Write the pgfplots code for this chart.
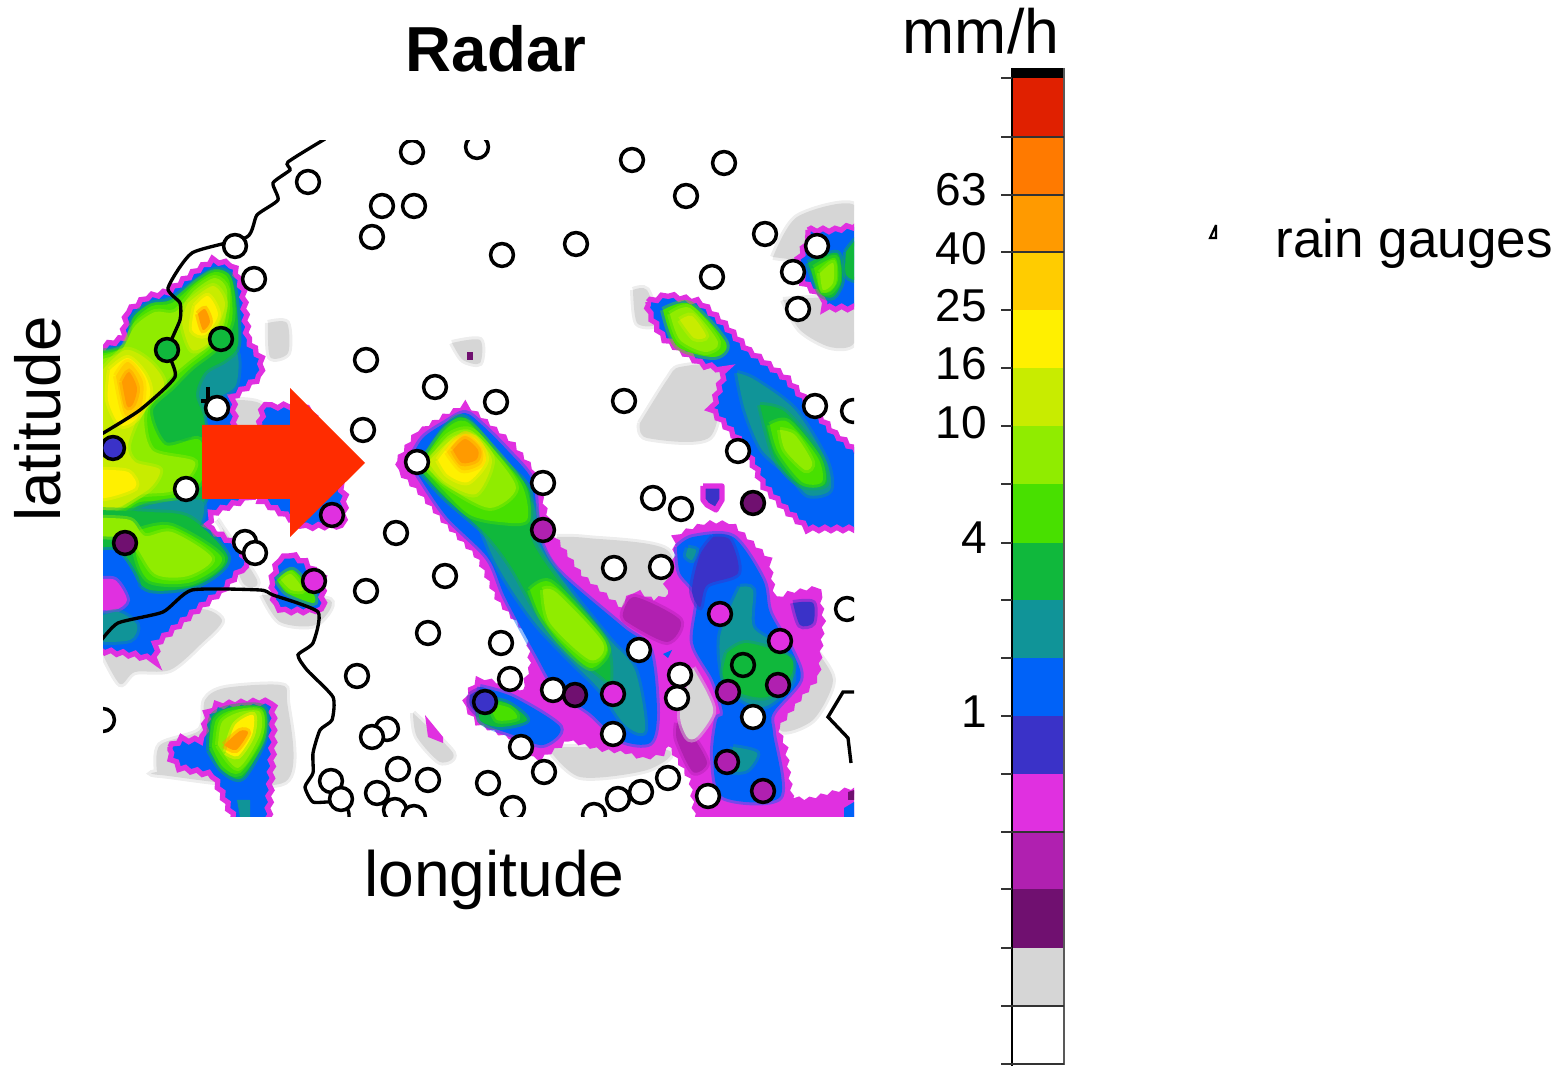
\documentclass[border=0pt]{standalone}
\usepackage{pgfplots}
\pgfplotsset{compat=1.18}
\usetikzlibrary{decorations.pathmorphing}
\usepackage{fontspec}
\setmainfont{Liberation Sans}
\definecolor{cGy}{HTML}{D6D6D6}
\definecolor{cDp}{HTML}{701070}
\definecolor{cPu}{HTML}{B020B0}
\definecolor{cMa}{HTML}{E030E0}
\definecolor{cIn}{HTML}{3A32C8}
\definecolor{cBl}{HTML}{0062F8}
\definecolor{cTe}{HTML}{109498}
\definecolor{cGr}{HTML}{10B83C}
\definecolor{cMg}{HTML}{48E000}
\definecolor{cLi}{HTML}{90EC00}
\definecolor{cYg}{HTML}{C8EC00}
\definecolor{cYe}{HTML}{FFF000}
\definecolor{cAm}{HTML}{FFCC00}
\definecolor{cOr}{HTML}{FF9A00}
\definecolor{cOd}{HTML}{FF7A00}
\definecolor{cRe}{HTML}{E02000}
\definecolor{cAr}{HTML}{FF2C00}
% flat polygon, soft inner layer, and polygon with the stepped magenta storm edge
\newcommand{\reg}[2]{\addplot[fill=#1,draw=none,forget plot] coordinates {#2};}
\newcommand{\sreg}[2]{\addplot[fill=#1,draw=#1,draw opacity=0.45,line width=1.7pt,smooth,forget plot] coordinates {#2};}
\newcommand{\edge}[2]{\addplot[fill=#1,draw=cMa,line width=1.5pt,line join=miter,decorate,decoration={zigzag,segment length=1.2mm,amplitude=0.17mm},forget plot] coordinates {#2};}
\newcommand{\bline}[1]{\addplot[draw=black,line width=0.95pt,smooth,tension=0.35,forget plot] coordinates {#1};}
\newcommand{\tk}[2]{\node[anchor=base east,inner sep=0pt,font=\fontsize{13.1pt}{15pt}\selectfont] at (axis cs:987.5,#2) {#1};}
\pgfplotsset{gauge/.style={only marks,mark=*,mark size=3.25pt,mark options={fill=#1,draw=black,line width=1pt},forget plot}}
\begin{document}
\begin{tikzpicture}[x=1cm,y=1cm]
\path[use as bounding box] (0,0) rectangle (15.62,10.66);
% ---------------- map ----------------
\begin{axis}[at={(1.03cm,2.49cm)},anchor=south west,scale only axis,width=7.51cm,height=6.76cm,
  xmin=103,xmax=854,ymin=141,ymax=817,y dir=reverse,hide axis,clip=true,clip marker paths=true]
% grey halos
\sreg{cGy}{(268,323)(287,323)(288,353)(270,357)(268,323)}
\sreg{cGy}{(452,343)(480,340)(480,363)(463,360)(452,343)}
\sreg{cGy}{(640,423)(667,380)(680,367)(720,370)(710,437)(647,438)(640,423)}
\sreg{cGy}{(773,257)(797,217)(854,205)(854,260)(773,257)}
\sreg{cGy}{(783,300)(800,330)(830,347)(854,343)(854,300)(783,300)}
\sreg{cGy}{(633,290)(647,290)(657,323)(637,323)(633,290)}
\sreg{cGy}{(557,537)(587,538)(667,550)(672,603)(623,612)(563,567)(557,537)}
\sreg{cGy}{(547,747)(667,750)(647,770)(580,777)(547,747)}
\sreg{cGy}{(813,647)(833,680)(813,720)(780,730)(790,680)(813,647)}
\sreg{cGy}{(103,655)(120,684)(135,672)(170,670)(200,645)(222,620)(190,610)(103,655)}
\sreg{cGy}{(157,772)(160,745)(200,730)(205,700)(225,688)(280,685)(287,700)(285,782)(160,775)(157,772)}
\sreg{cGy}{(413,713)(453,753)(440,762)(417,737)(413,713)}
\sreg{cGy}{(217,520)(257,580)(243,583)(223,530)(217,520)}
\sreg{cGy}{(235,400)(262,405)(262,440)(237,440)(235,400)}
\sreg{cGy}{(262,595)(330,600)(315,625)(280,622)(262,595)}
\reg{cDp}{(467,352)(473,352)(473,360)(467,360)}
% west storm
\edge{cBl}{(95,350)(123,338)(127,312)(147,297)(168,292)(197,270)(213,260)(233,265)(243,290)(248,340)(262,360)(260,377)(233,397)(235,430)(250,430)(250,497)(213,513)(207,527)(240,547)(247,563)(223,590)(193,613)(157,643)(155,660)(135,655)(95,650)(95,350)}
\sreg{cTe}{(196,365)(235,350)(236,385)(215,400)(200,420)(188,395)(196,365)}
\sreg{cGr}{(98,352)(128,345)(133,318)(150,304)(170,300)(198,280)(215,270)(230,275)(236,300)(238,345)(225,360)(205,372)(196,395)(205,425)(205,500)(165,518)(135,512)(98,525)(98,352)}
\sreg{cMg}{(98,354)(125,347)(135,320)(152,306)(172,303)(197,282)(215,272)(229,280)(232,320)(217,347)(192,367)(172,387)(150,410)(165,445)(200,440)(202,480)(175,500)(140,502)(98,516)(98,354)}
\sreg{cLi}{(98,360)(120,352)(135,326)(155,312)(175,312)(195,290)(215,278)(227,290)(224,325)(207,347)(188,362)(168,380)(145,410)(152,450)(195,462)(175,490)(140,495)(98,510)(98,360)}
\sreg{cYg}{(98,375)(125,350)(150,362)(164,385)(142,410)(128,445)(135,462)(160,470)(145,492)(98,505)(98,375)}
\sreg{cYg}{(188,303)(213,286)(225,305)(211,340)(192,350)(182,322)(188,303)}
\sreg{cYe}{(110,370)(128,358)(145,375)(150,395)(135,420)(120,425)(108,400)(110,370)}
\sreg{cYe}{(98,470)(128,472)(135,488)(98,498)(98,470)}
\sreg{cYe}{(195,306)(208,296)(218,315)(205,335)(192,330)(195,306)}
\sreg{cAm}{(116,376)(128,362)(143,382)(140,410)(125,415)(116,376)}
\sreg{cOr}{(122,382)(129,372)(137,388)(133,404)(127,406)(122,382)}
\sreg{cOr}{(198,314)(205,309)(210,322)(203,330)(198,314)}
\sreg{cGr}{(160,410)(180,405)(195,425)(185,438)(165,430)(160,410)}
% west storm, below the arrow
\sreg{cTe}{(103,525)(150,505)(200,500)(202,520)(190,535)(150,545)(125,555)(103,548)(103,525)}
\sreg{cGr}{(95,510)(150,512)(190,518)(228,558)(198,585)(150,590)(125,568)(95,548)(95,510)}
\sreg{cMg}{(140,530)(172,526)(222,558)(192,582)(150,581)(136,555)(140,530)}
\sreg{cLi}{(95,518)(130,520)(145,536)(172,532)(212,558)(188,576)(155,574)(130,540)(95,535)(95,518)}
\sreg{cBl}{(95,552)(118,552)(138,585)(120,595)(95,600)(95,552)}
\sreg{cMa}{(95,580)(115,580)(127,600)(115,610)(95,607)(95,580)}
\sreg{cTe}{(95,618)(118,612)(137,625)(130,640)(95,640)(95,618)}
% small blob behind the arrow
\edge{cBl}{(260,425)(263,407)(300,405)(312,412)(345,497)(343,525)(305,527)(260,500)(260,425)}
% west small blob
\edge{cBl}{(272,580)(278,561)(290,554)(303,561)(322,578)(323,606)(313,611)(283,611)(275,605)(272,580)}
\sreg{cMg}{(277,580)(293,570)(313,593)(313,603)(287,593)(277,580)}
\sreg{cLi}{(281,580)(291,574)(303,590)(291,590)(281,580)}
% south storm
\edge{cBl}{(170,747)(180,740)(203,740)(207,715)(217,705)(257,702)(273,702)(273,743)(268,825)(237,825)(213,775)(180,768)(170,757)(170,747)}
\sreg{cGr}{(209,750)(212,717)(233,707)(264,708)(264,740)(242,778)(222,770)(209,750)}
\sreg{cMg}{(212,747)(216,720)(233,710)(262,711)(262,740)(240,773)(223,767)(212,747)}
\sreg{cLi}{(218,745)(222,722)(240,712)(260,712)(260,735)(238,768)(218,745)}
\sreg{cYe}{(226,752)(235,725)(253,715)(252,735)(238,756)(226,752)}
\sreg{cOr}{(224,745)(240,731)(248,733)(236,750)(224,745)}
\reg{cTe}{(237,800)(250,800)(250,817)(240,817)}
\reg{cMa}{(425,715)(443,737)(443,743)(428,737)}
% centre + south-east complex
\edge{cMa}{(400,460)(417,435)(443,419)(465,407)(480,419)(510,444)(531,470)(541,503)(552,537)(580,577)(620,610)(635,593)(653,603)(670,597)(668,583)(677,560)(677,537)(707,525)(730,525)(767,560)(773,603)(790,595)(817,590)(821,620)(816,677)(800,695)(775,728)(783,747)(790,800)(807,802)(840,793)(860,790)(860,825)(700,825)(697,813)(693,780)(670,743)(660,753)(643,756)(627,750)(600,747)(567,737)(560,743)(537,758)(513,737)(480,722)(466,705)(470,693)(480,680)(523,693)(533,667)(530,633)(500,600)(480,557)(445,520)(420,490)(400,470)(400,460)}
\sreg{cPu}{(623,613)(635,597)(680,620)(667,642)(627,622)(623,613)}
\sreg{cPu}{(677,723)(693,737)(707,763)(693,772)(677,740)(677,723)}
\reg{cDp}{(848,792)(854,790)(854,800)(848,800)}
\reg{cBl}{(844,808)(854,802)(854,817)(844,817)}
\sreg{cGy}{(693,668)(707,693)(713,713)(697,737)(687,737)(680,713)(693,668)}
% central tongue
\sreg{cBl}{(410,460)(423,438)(445,423)(465,413)(482,425)(507,450)(532,480)(537,520)(542,545)(560,573)(623,627)(650,650)(657,713)(650,743)(620,740)(590,713)(557,690)(535,653)(505,597)(488,558)(447,517)(420,478)(410,460)}
\sreg{cTe}{(470,500)(530,500)(540,545)(570,590)(610,640)(635,670)(645,730)(625,725)(600,690)(570,660)(537,625)(512,590)(492,555)(470,500)}
\sreg{cGr}{(418,468)(445,428)(465,418)(500,458)(529,490)(532,540)(565,590)(605,640)(610,680)(600,675)(560,642)(533,605)(512,568)(487,535)(445,498)(418,468)}
\sreg{cMg}{(420,465)(445,430)(465,421)(490,445)(522,485)(527,520)(500,522)(470,515)(445,492)(420,465)}
\sreg{cMg}{(530,590)(550,582)(590,622)(608,650)(590,668)(560,642)(540,615)(530,590)}
\sreg{cLi}{(424,465)(448,436)(470,430)(492,452)(516,488)(490,508)(450,488)(424,465)}
\sreg{cLi}{(543,590)(557,593)(603,643)(590,660)(550,623)(543,590)}
\sreg{cYg}{(428,462)(450,441)(472,436)(492,460)(476,494)(445,482)(428,462)}
\sreg{cYe}{(438,460)(455,440)(474,438)(486,460)(468,482)(448,475)(438,460)}
\sreg{cAm}{(447,452)(465,434)(482,448)(481,464)(462,470)(447,452)}
\sreg{cOr}{(453,450)(465,439)(478,450)(476,460)(462,463)(453,450)}
\reg{cBl}{(663,654)(672,650)(668,658)}
% tongue to the south-west
\sreg{cBl}{(480,687)(513,697)(560,727)(543,745)(513,735)(480,720)(480,687)}
\sreg{cIn}{(470,695)(482,690)(490,705)(480,715)(470,705)(470,695)}
\sreg{cGr}{(480,697)(507,703)(527,720)(500,727)(480,720)(480,697)}
\sreg{cMg}{(490,703)(510,708)(517,718)(497,720)(490,703)}
% south-east blue, teal, green
\sreg{cBl}{(677,547)(693,537)(733,537)(763,580)(770,613)(793,653)(800,680)(773,713)(773,733)(780,797)(723,797)(713,757)(717,720)(723,713)(713,680)(693,643)(697,597)(680,573)(677,547)}
\sreg{cIn}{(713,537)(730,540)(738,573)(707,585)(700,607)(692,590)(700,555)(713,537)}
\sreg{cTe}{(688,548)(696,550)(692,560)(686,556)(688,548)}
\sreg{cTe}{(740,587)(753,590)(753,627)(780,647)(793,680)(763,707)(727,687)(720,637)(740,587)}
\sreg{cGr}{(727,653)(747,643)(790,657)(790,677)(767,697)(740,693)(723,677)(727,653)}
\sreg{cTe}{(733,747)(757,753)(747,770)(730,770)(733,747)}
\sreg{cIn}{(793,603)(813,603)(813,623)(800,625)(793,603)}
% small blob near the dark gauge
\addplot[fill=cIn,draw=cMa,line width=1.5pt,line join=round,forget plot] coordinates {(703,486)(722,486)(722,500)(716,510)(707,505)(703,500)(703,486)};
% north-east diagonal storm
\edge{cBl}{(648,302)(667,295)(700,302)(725,325)(747,349)(787,379)(813,409)(833,432)(865,458)(865,529)(808,529)(787,511)(763,485)(757,471)(743,445)(712,410)(725,370)(703,365)(663,338)(649,313)(648,302)}
\sreg{cTe}{(737,373)(755,380)(795,410)(826,460)(830,490)(808,495)(790,475)(762,450)(745,410)(737,373)}
\sreg{cGr}{(760,405)(785,412)(820,455)(826,484)(800,485)(775,458)(760,405)}
\sreg{cMg}{(663,310)(690,304)(726,343)(714,357)(677,346)(663,310)}
\sreg{cLi}{(670,314)(690,308)(718,342)(705,352)(680,340)(670,314)}
\sreg{cYg}{(680,320)(692,316)(706,336)(694,338)(680,320)}
\sreg{cMg}{(770,425)(788,422)(818,458)(822,482)(802,482)(778,452)(770,425)}
\sreg{cLi}{(780,430)(795,435)(812,462)(805,470)(785,450)(780,430)}
% north-east corner storm
\edge{cBl}{(808,230)(833,230)(865,224)(865,308)(823,308)(823,298)(804,283)(797,263)(808,240)(808,230)}
\sreg{cGr}{(808,263)(837,253)(842,280)(833,297)(820,293)(808,263)}
\sreg{cMg}{(814,268)(835,258)(838,280)(830,292)(820,290)(814,268)}
\sreg{cLi}{(820,273)(833,263)(833,283)(823,290)(820,273)}
\sreg{cGr}{(846,252)(860,238)(860,278)(846,275)(846,252)}
% borders
\bline{(325,139)(288,162)(290,170)(273,183)(278,200)(257,215)(247,237)(192,253)(168,288)(180,303)(180,320)(168,350)(175,377)(140,410)(100,435)}
\bline{(100,642)(118,623)(163,612)(192,590)(260,590)(273,595)(318,612)(313,643)(298,655)(307,670)(333,697)(332,720)(320,730)(313,753)(313,773)(305,787)(313,802)(333,802)(348,810)(349,822)}
\addplot[draw=black,line width=0.95pt,forget plot] coordinates {(858,692)(843,692)(828,717)(848,738)(851,763)};
\addplot[draw=black,line width=0.95pt,forget plot] coordinates {(208,387)(208,401)(201,401)};
% rain gauges
\addplot[gauge=white] coordinates {(308,182)(412,152)(477,147)(382,206)(414,206)(372,237)(235,246)(254,279)(366,360)(435,387)(363,430)(217,408)(417,462)(632,160)(724,163)(686,196)(765,234)(576,244)(502,255)(817,246)(793,272)(712,277)(798,309)(496,402)(624,401)(815,406)(853,411)(738,451)(543,483)(186,489)(245,542)(255,553)(396,533)(366,591)(445,576)(428,633)(357,676)(387,729)(372,737)(398,769)(428,780)(331,781)(341,799)(377,793)(395,810)(414,817)(103,720)(488,783)(653,498)(681,509)(614,568)(661,567)(847,609)(501,643)(639,650)(680,675)(677,698)(510,679)(553,690)(753,717)(613,734)(521,747)(544,772)(668,778)(641,792)(618,799)(708,796)(513,808)(594,815)};
\addplot[gauge=cGr] coordinates {(221,339)(167,350)(743,665)};
\addplot[gauge=cIn] coordinates {(113,448)(485,702)};
\addplot[gauge=cMa] coordinates {(332,515)(314,581)(720,614)(780,641)(613,694)};
\addplot[gauge=cPu] coordinates {(543,530)(728,692)(778,685)(727,762)(763,791)};
\addplot[gauge=cDp] coordinates {(125,543)(753,503)(575,695)};
\end{axis}
% ---------------- overlay: arrow, colour bar, texts ----------------
\begin{axis}[at={(0cm,0cm)},anchor=south west,scale only axis,width=15.62cm,height=10.66cm,
  xmin=0,xmax=1562,ymin=0,ymax=1066,y dir=reverse,hide axis,clip=false]
\reg{cAr}{(202,425)(290,425)(290,388)(365,463)(290,537)(290,499)(202,499)}
% colour bar: one rectangle per class
\reg{black}{(1012,68)(1064,68)(1064,78)(1012,78)}
\reg{cRe}{(1012,78)(1064,78)(1064,137)(1012,137)}
\reg{cOd}{(1012,137)(1064,137)(1064,195)(1012,195)}
\reg{cOr}{(1012,195)(1064,195)(1064,252)(1012,252)}
\reg{cAm}{(1012,252)(1064,252)(1064,310)(1012,310)}
\reg{cYe}{(1012,310)(1064,310)(1064,368)(1012,368)}
\reg{cYg}{(1012,368)(1064,368)(1064,426)(1012,426)}
\reg{cLi}{(1012,426)(1064,426)(1064,484)(1012,484)}
\reg{cMg}{(1012,484)(1064,484)(1064,543)(1012,543)}
\reg{cGr}{(1012,543)(1064,543)(1064,600)(1012,600)}
\reg{cTe}{(1012,600)(1064,600)(1064,658)(1012,658)}
\reg{cBl}{(1012,658)(1064,658)(1064,716)(1012,716)}
\reg{cIn}{(1012,716)(1064,716)(1064,774)(1012,774)}
\reg{cMa}{(1012,774)(1064,774)(1064,832)(1012,832)}
\reg{cPu}{(1012,832)(1064,832)(1064,889)(1012,889)}
\reg{cDp}{(1012,889)(1064,889)(1064,948)(1012,948)}
\reg{cGy}{(1012,948)(1064,948)(1064,1006)(1012,1006)}
\reg{white}{(1012,1006)(1064,1006)(1064,1064)(1012,1064)}
\addplot[draw=black!65,line width=0.5pt,forget plot] coordinates {(1064,68)(1064,1064)(1012,1064)};
\addplot[draw=black,line width=0.8pt,forget plot] coordinates {(1012,68)(1012,1066)};
% class ticks
\addplot[draw=black!80,line width=0.4pt,forget plot] coordinates {(1001,78)(1012,78)};
\addplot[draw=black!80,line width=0.4pt,forget plot] coordinates {(1001,137)(1064,137)};
\addplot[draw=black!80,line width=0.4pt,forget plot] coordinates {(1001,195)(1064,195)};
\addplot[draw=black!80,line width=0.4pt,forget plot] coordinates {(1001,252)(1064,252)};
\addplot[draw=black!80,line width=0.4pt,forget plot] coordinates {(1001,310)(1012,310)};
\addplot[draw=black!80,line width=0.4pt,forget plot] coordinates {(1001,368)(1012,368)};
\addplot[draw=black!80,line width=0.4pt,forget plot] coordinates {(1001,426)(1012,426)};
\addplot[draw=black!80,line width=0.4pt,forget plot] coordinates {(1001,484)(1012,484)};
\addplot[draw=black!80,line width=0.4pt,forget plot] coordinates {(1001,543)(1012,543)};
\addplot[draw=black!80,line width=0.4pt,forget plot] coordinates {(1001,600)(1012,600)};
\addplot[draw=black!80,line width=0.4pt,forget plot] coordinates {(1001,658)(1012,658)};
\addplot[draw=black!80,line width=0.4pt,forget plot] coordinates {(1001,716)(1012,716)};
\addplot[draw=black!80,line width=0.4pt,forget plot] coordinates {(1001,774)(1012,774)};
\addplot[draw=black!80,line width=0.4pt,forget plot] coordinates {(1001,832)(1064,832)};
\addplot[draw=black!80,line width=0.4pt,forget plot] coordinates {(1001,889)(1012,889)};
\addplot[draw=black!80,line width=0.4pt,forget plot] coordinates {(1001,948)(1012,948)};
\addplot[draw=black!80,line width=0.4pt,forget plot] coordinates {(1001,1006)(1064,1006)};
\addplot[draw=black!80,line width=0.4pt,forget plot] coordinates {(1001,1064)(1064,1064)};
% little legend glyph
\addplot[draw=black,line width=0.6pt,forget plot] coordinates {(1216,225)(1210,238)(1216,238)(1216,225)};
% texts
\node[anchor=base,font=\fontsize{18.1pt}{20pt}\selectfont\bfseries] at (axis cs:496,72) {Radar};
\node[anchor=base,font=\fontsize{17.8pt}{20pt}\selectfont] at (axis cs:981,54) {mm/h};
\node[anchor=base,font=\fontsize{18.25pt}{20pt}\selectfont] at (axis cs:494.5,896) {longitude};
\node[anchor=base,rotate=90,font=\fontsize{18.1pt}{20pt}\selectfont] at (axis cs:61,419) {latitude};
\node[anchor=base west,inner sep=0pt,font=\fontsize{15.1pt}{18pt}\selectfont] at (axis cs:1275,258) {rain gauges};
\tk{63}{206}
\tk{40}{265}
\tk{25}{322}
\tk{16}{380}
\tk{10}{439}
\tk{4}{554}
\tk{1}{727}
\end{axis}
\end{tikzpicture}
\end{document}
